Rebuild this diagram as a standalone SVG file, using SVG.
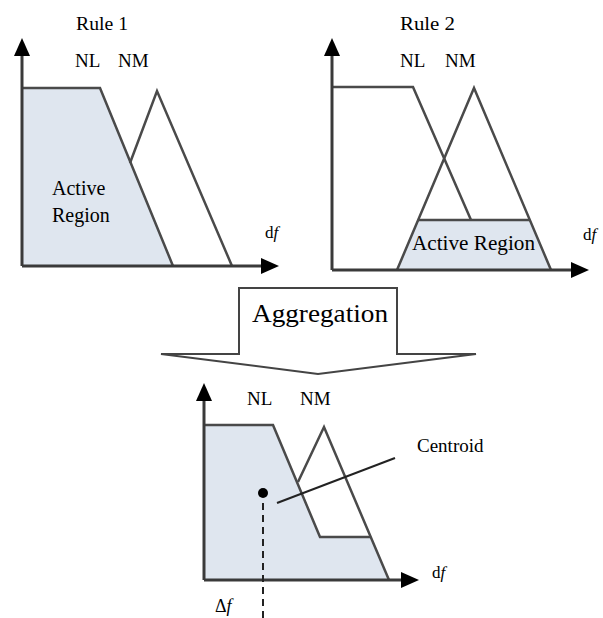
<svg xmlns="http://www.w3.org/2000/svg" width="603" height="618" viewBox="0 0 603 618">
<style>
.ax{stroke:#3a3a3a;stroke-width:3;fill:none}
.ah{fill:#000}
.mf{stroke:#4a4a4a;stroke-width:2.5;fill:none;stroke-linejoin:miter}
.fill{fill:#dfe6ef;stroke:none}
.t{font-family:"Liberation Serif","Times New Roman",serif;fill:#000}
</style>
<rect width="603" height="618" fill="#fff"/>
<g id="rule1">
<polygon class="fill" points="22,88 100,88 173,266 22,266"/>
<polyline class="mf" points="22,88 100,88 173,266"/>
<polyline class="mf" points="130,163 157,91 232,266"/>
<line class="ax" x1="22" y1="266" x2="22" y2="54"/>
<polygon class="ah" points="22,38 14,56 30,56"/>
<line class="ax" x1="22" y1="266" x2="262" y2="266"/>
<polygon class="ah" points="279,266 261,258 261,274"/>
<text class="t" x="76" y="30" font-size="18" textLength="52" lengthAdjust="spacingAndGlyphs">Rule 1</text>
<text class="t" x="75" y="67" font-size="19">NL</text>
<text class="t" x="118" y="67" font-size="19">NM</text>
<text class="t" x="52" y="195" font-size="20">Active</text>
<text class="t" x="52" y="222" font-size="20">Region</text>
<text class="t" x="265" y="238" font-size="17">d<tspan font-style="italic">f</tspan></text>
</g>
<g id="rule2">
<polygon class="fill" points="418,220 530,220 551,270 397,270"/>
<polyline class="mf" points="332,87 413,87 471,220"/>
<polyline class="mf" points="397,270 474,88 551,270"/>
<line class="mf" x1="418" y1="220" x2="530" y2="220"/>
<line class="ax" x1="332" y1="270" x2="332" y2="54"/>
<polygon class="ah" points="332,38 324,56 340,56"/>
<line class="ax" x1="332" y1="270" x2="572" y2="270"/>
<polygon class="ah" points="589,270 571,262 571,278"/>
<text class="t" x="400" y="30" font-size="18" textLength="55" lengthAdjust="spacingAndGlyphs">Rule 2</text>
<text class="t" x="400" y="67" font-size="19">NL</text>
<text class="t" x="445" y="67" font-size="19">NM</text>
<text class="t" x="412" y="250" font-size="20" textLength="123" lengthAdjust="spacingAndGlyphs">Active Region</text>
<text class="t" x="583" y="240" font-size="17">d<tspan font-style="italic">f</tspan></text>
</g>
<g id="aggregation">
<path d="M161,354 H239 V288 H397 V354 H476 L318,374 Z" fill="#fff" stroke="#444" stroke-width="2"/>
<text class="t" x="252" y="322" font-size="26" textLength="136" lengthAdjust="spacingAndGlyphs">Aggregation</text>
</g>
<g id="result">
<polygon class="fill" points="204,425 273,425 320,537 371,537 389,580 204,580"/>
<polyline class="mf" points="204,425 273,425 320,537 371,537"/>
<polyline class="mf" points="298,482 324,427 389,580"/>
<line class="ax" x1="204" y1="580" x2="204" y2="399"/>
<polygon class="ah" points="204,383 196,401 212,401"/>
<line class="ax" x1="204" y1="580" x2="402" y2="580"/>
<polygon class="ah" points="419,580 401,572 401,588"/>
<text class="t" x="247" y="405" font-size="19">NL</text>
<text class="t" x="300" y="405" font-size="19">NM</text>
<circle cx="263" cy="493" r="5" fill="#000"/>
<text class="t" x="417" y="452" font-size="19">Centroid</text>
<text class="t" x="432" y="578" font-size="17">d<tspan font-style="italic">f</tspan></text>
<text class="t" x="215" y="612" font-size="18">Δ<tspan font-style="italic">f</tspan></text>
</g>
<g id="connectors">
<line x1="277" y1="503" x2="395" y2="458" stroke="#222" stroke-width="2"/>
<line x1="263" y1="503" x2="263" y2="618" stroke="#222" stroke-width="2" stroke-dasharray="7,5"/>
</g>
</svg>
